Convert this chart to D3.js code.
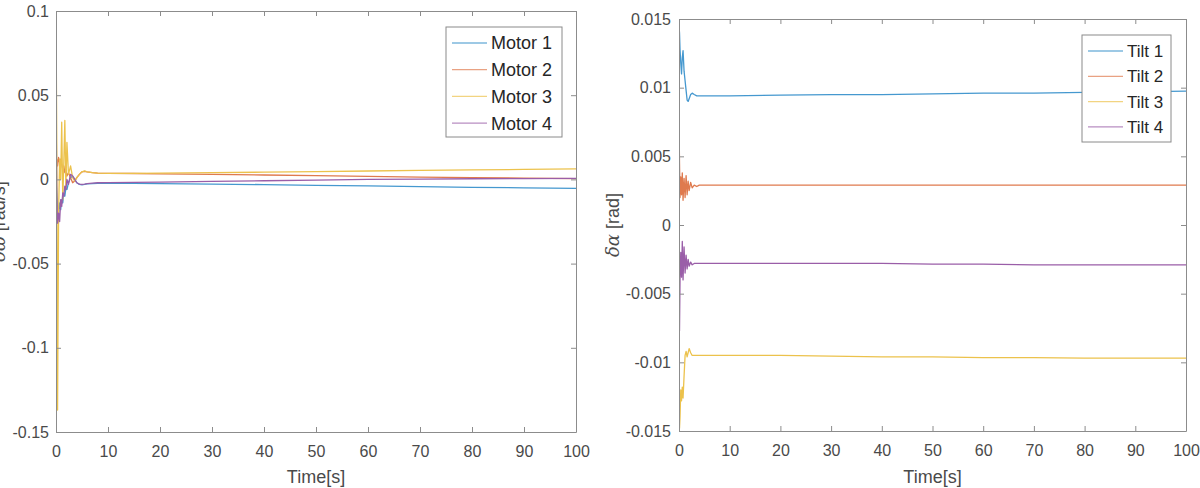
<!DOCTYPE html>
<html lang="en">
<head>
<meta charset="UTF-8">
<title>Motor and tilt deviations</title>
<script src="https://cdn.jsdelivr.net/npm/d3@7/dist/d3.min.js"></script>
<style>
    body { margin: 0; background: #fff; }
    svg { display: block; font-family: "Liberation Sans", Arial, sans-serif; }
</style>
</head>
<body>
<svg id="svg"></svg>
<script>
    var WIDTH = 1200;
    var HEIGHT = 488;

    // x ticks shared by both panels
    var timeTicks = [0, 10, 20, 30, 40, 50, 60, 70, 80, 90, 100];

    // Left panel: motor speed deviation
    var motorTime = [0, 0.15, 0.3, 0.5, 0.7, 0.9, 1.1, 1.3, 1.5, 1.7, 1.9, 2.1, 2.4, 2.8, 3.2, 3.6, 4.0,
                     4.5, 5.0, 5.5, 6.0, 7, 8, 10, 15, 20, 30, 40, 50, 60, 70, 80, 90, 100];
    var motor1 = [0.0, -0.008, -0.015, -0.02, -0.014, -0.018, -0.012, -0.014, -0.008, -0.01, -0.005, -0.006,
                  -0.002, 0.001, 0.002, 0.0, -0.002, -0.003, -0.0032, -0.003, -0.0027, -0.0025, -0.0024, -0.0024,
                  -0.0024, -0.0025, -0.0028, -0.0031, -0.0035, -0.0039, -0.0043, -0.0047, -0.005, -0.0053];
    var motor2 = [0.0, 0.012, 0.008, 0.013, 0.010, 0.012, 0.009, 0.006, 0.008, 0.004, 0.006, 0.002,
                  0.004, 0.001, -0.002, -0.001, 0.001, 0.003, 0.0045, 0.0048, 0.0045, 0.004, 0.0037, 0.0036,
                  0.0035, 0.0033, 0.003, 0.0026, 0.0022, 0.0018, 0.0014, 0.0011, 0.0008, 0.0005];
    var motor3 = [0.1, 0.02, -0.137, -0.02, 0.012, 0.0, 0.034, -0.012, 0.01, 0.035, -0.005, 0.022,
                  0.003, 0.008, 0.001, -0.001, 0.001, 0.003, 0.0045, 0.005, 0.0045, 0.004, 0.0037, 0.0036,
                  0.0036, 0.0037, 0.004, 0.0043, 0.0046, 0.005, 0.0053, 0.0056, 0.0059, 0.0062];
    var motor4 = [0.048, -0.01, -0.026, -0.02, -0.025, -0.012, -0.016, -0.008, -0.01, -0.004, -0.006, 0.0,
                  -0.003, 0.003, 0.002, 0.0, -0.002, -0.0028, -0.003, -0.0028, -0.0025, -0.0022, -0.002, -0.0019,
                  -0.0018, -0.0016, -0.0012, -0.0008, -0.0004, 0.0, 0.0002, 0.0004, 0.0005, 0.0006];
    var motorNames = ["Motor 1", "Motor 2", "Motor 3", "Motor 4"];
    var motorYTicks = [-0.15, -0.1, -0.05, 0, 0.05, 0.1];
    var motorYLabels = ["-0.15", "-0.1", "-0.05", "0", "0.05", "0.1"];

    // Right panel: tilt angle deviation
    var tiltTime = [0, 0.1, 0.2, 0.35, 0.5, 0.65, 0.8, 1.0, 1.2, 1.4, 1.6, 1.8, 2.0, 2.3, 2.6, 3.0,
                    3.5, 4, 5, 6, 8, 10, 20, 30, 40, 50, 60, 70, 80, 90, 100];
    var tilt1 = [0.0145, 0.0140, 0.0128, 0.0118, 0.0110, 0.0122, 0.0127, 0.0112, 0.0105, 0.0098, 0.0091,
                 0.0090, 0.0092, 0.0095, 0.0096, 0.0095, 0.0094, 0.0094, 0.0094, 0.0094, 0.0094, 0.0094,
                 0.00945, 0.0095, 0.0095, 0.00955, 0.0096, 0.0096, 0.00965, 0.0097, 0.00975];
    var tilt2 = [0.0077, 0.0045, 0.0020, 0.0035, 0.0022, 0.0038, 0.0018, 0.0034, 0.0020, 0.0036, 0.0022,
                 0.0032, 0.0025, 0.0031, 0.0027, 0.0029, 0.0028, 0.0029, 0.0029, 0.0029, 0.0029, 0.0029,
                 0.0029, 0.0029, 0.0029, 0.0029, 0.0029, 0.0029, 0.0029, 0.0029, 0.0029];
    var tilt3 = [-0.0077, -0.0148, -0.0140, -0.0120, -0.0128, -0.0118, -0.0126, -0.0110, -0.0095, -0.0092,
                 -0.0096, -0.0093, -0.0090, -0.0093, -0.0095, -0.0095, -0.0095, -0.0095, -0.0095, -0.0095,
                 -0.0095, -0.0095, -0.0095, -0.00955, -0.0096, -0.0096, -0.00965, -0.00965, -0.0097, -0.0097, -0.0097];
    var tilt4 = [0.0, -0.0077, -0.0040, -0.0020, -0.0038, -0.0012, -0.0040, -0.0016, -0.0035, -0.0022,
                 -0.0032, -0.0025, -0.0030, -0.0027, -0.0029, -0.0028, -0.0028, -0.0028, -0.0028, -0.0028,
                 -0.0028, -0.0028, -0.0028, -0.0028, -0.0028, -0.00285, -0.00285, -0.0029, -0.0029, -0.0029, -0.0029];
    var tiltNames = ["Tilt 1", "Tilt 2", "Tilt 3", "Tilt 4"];
    var tiltYTicks = [-0.015, -0.01, -0.005, 0, 0.005, 0.01, 0.015];
    var tiltYLabels = ["-0.015", "-0.01", "-0.005", "0", "0.005", "0.01", "0.015"];

    var COLORS = ["#4598cf", "#df7a4e", "#ecc24c", "#9a5ea8"];
    var AXIS_COLOR = "#8c8c8c";
    var TEXT_COLOR = "#4a4a4a";

    var svg = d3.select("#svg")
                .attr("width", WIDTH)
                .attr("height", HEIGHT);

    var drawPanel = function(p){
        var g = svg.append("g");

        var xScale = d3.scaleLinear().domain([0, 100]).range([p.left, p.right]);
        var yScale = d3.scaleLinear().domain(p.yDomain).range([p.bottom, p.top]);

        g.append("clipPath")
         .attr("id", p.id + "-clip")
         .append("rect")
         .attr("x", p.left)
         .attr("y", p.top)
         .attr("width", p.right - p.left)
         .attr("height", p.bottom - p.top);

        var line = d3.line()
                     .x(function(d, i){ return xScale(p.time[i]); })
                     .y(function(d){ return yScale(d); });

        g.append("g")
         .attr("clip-path", "url(#" + p.id + "-clip)")
         .selectAll("path")
         .data(p.series)
         .enter()
         .append("path")
         .attr("d", line)
         .attr("fill", "none")
         .attr("stroke", function(d, i){ return COLORS[i]; })
         .attr("stroke-width", 1.3)
         .attr("stroke-linejoin", "round");

        var xBottom = d3.axisBottom(xScale).tickValues(timeTicks)
                        .tickSizeInner(-5).tickSizeOuter(0).tickPadding(14);
        var xTop = d3.axisTop(xScale).tickValues(timeTicks)
                     .tickSizeInner(-5).tickSizeOuter(0).tickFormat("");
        var yLeft = d3.axisLeft(yScale).tickValues(p.yTicks)
                      .tickFormat(function(d, i){ return p.yLabels[i]; })
                      .tickSizeInner(-5).tickSizeOuter(0).tickPadding(p.yPad);
        var yRight = d3.axisRight(yScale).tickValues(p.yTicks)
                       .tickSizeInner(-5).tickSizeOuter(0).tickFormat("");

        var axes = [
            g.append("g").attr("transform", "translate(0," + p.bottom + ")").call(xBottom),
            g.append("g").attr("transform", "translate(0," + p.top + ")").call(xTop),
            g.append("g").attr("transform", "translate(" + p.left + ",0)").call(yLeft),
            g.append("g").attr("transform", "translate(" + p.right + ",0)").call(yRight)
        ];
        axes.forEach(function(a){
            a.select(".domain").attr("stroke", AXIS_COLOR);
            a.selectAll(".tick line").attr("stroke", AXIS_COLOR);
            a.selectAll(".tick text")
             .attr("fill", TEXT_COLOR)
             .style("font-size", "16px")
             .style("font-family", "'Liberation Sans', Arial, sans-serif");
        });

        // axis titles
        g.append("text")
         .attr("x", (p.left + p.right) / 2)
         .attr("y", 483)
         .attr("text-anchor", "middle")
         .attr("fill", TEXT_COLOR)
         .style("font-size", "18px")
         .text("Time[s]");

        var yt = g.append("text")
                  .attr("transform", "translate(" + p.yLabelX + "," + ((p.top + p.bottom) / 2) + ") rotate(-90)")
                  .attr("text-anchor", "middle")
                  .attr("fill", TEXT_COLOR)
                  .style("font-size", "18px");
        yt.append("tspan").style("font-family", "'DejaVu Serif', serif").style("font-style", "italic")
          .text(p.yLabelSym);
        yt.append("tspan").text(" " + p.yLabelUnit);

        // legend
        var L = p.legend;
        var lg = g.append("g");
        lg.append("rect")
          .attr("x", L.x).attr("y", L.y)
          .attr("width", L.w).attr("height", L.h)
          .attr("fill", "#fff")
          .attr("stroke", "#8a8a8a");
        var rows = lg.selectAll("g.row")
                     .data(p.names)
                     .enter()
                     .append("g")
                     .attr("class", "row")
                     .attr("transform", function(d, i){ return "translate(0," + (L.row0 + i * L.step) + ")"; });
        rows.append("line")
            .attr("x1", L.x + 6).attr("x2", L.x + 41)
            .attr("stroke", function(d, i){ return COLORS[i]; })
            .attr("stroke-opacity", 0.7)
            .attr("stroke-width", 1.3);
        rows.append("text")
            .attr("x", L.x + 45)
            .attr("dy", "0.36em")
            .attr("fill", "#262626")
            .style("font-size", L.font + "px")
            .text(function(d){ return d; });
    };

    drawPanel({
        id: "motor",
        left: 56, right: 576, top: 11, bottom: 432,
        yDomain: [-0.15, 0.1],
        yTicks: motorYTicks, yLabels: motorYLabels, yPad: 7,
        time: motorTime,
        series: [motor1, motor2, motor3, motor4],
        names: motorNames,
        yLabelX: 5, yLabelSym: "δω", yLabelUnit: "[rad/s]",
        legend: {x: 446, y: 27, w: 116, h: 110, row0: 43, step: 26.7, font: 18}
    });

    drawPanel({
        id: "tilt",
        left: 679, right: 1186, top: 19, bottom: 431,
        yDomain: [-0.015, 0.015],
        yTicks: tiltYTicks, yLabels: tiltYLabels, yPad: 8,
        time: tiltTime,
        series: [tilt1, tilt2, tilt3, tilt4],
        names: tiltNames,
        yLabelX: 619, yLabelSym: "δα", yLabelUnit: "[rad]",
        legend: {x: 1082, y: 35, w: 89, h: 107, row0: 51, step: 25.3, font: 17}
    });
</script>
</body>
</html>
